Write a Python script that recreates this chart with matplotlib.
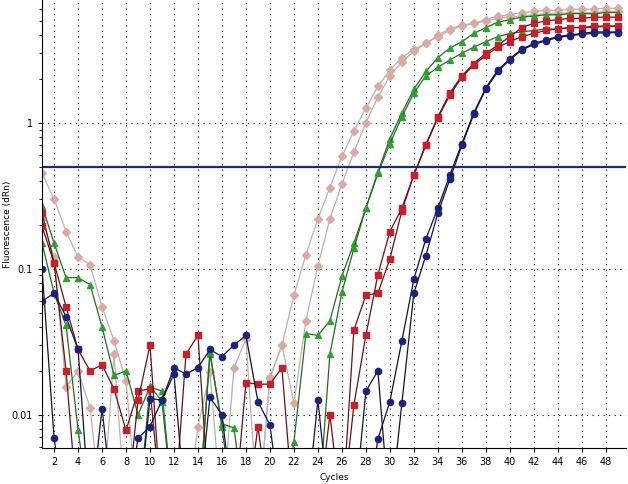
import numpy as np
import matplotlib
matplotlib.use("Agg")
import matplotlib.pyplot as plt

L = 0.002  # below the visible axis range
cycles = np.arange(1, 50)

blue_a = [0.1, 0.0069, L, L, L, 0.011, L, L, 0.0069, 0.0083, 0.0126, 0.021, 0.019, 0.021, 0.028, 0.025, 0.030, 0.035, 0.0123, 0.0085,
          L, L, L, 0.0126, L, L, L, L, 0.0068, 0.0123, 0.032, 0.085, 0.16, 0.26, 0.44, 0.72, 1.17, 1.74, 2.3, 2.75,
          3.2, 3.5, 3.7, 3.9, 4.0, 4.1, 4.2, 4.2, 4.2]
blue_b = [0.06, 0.068, 0.047, 0.028, L, L, L, L, L, 0.0129, 0.0126, 0.019, L, L, 0.0132, 0.010, L, L, L, L,
          L, L, L, L, L, L, L, 0.0145, 0.020, L, 0.012, 0.068, 0.123, 0.24, 0.41, 0.70, 1.15, 1.7, 2.25, 2.7,
          3.15, 3.45, 3.65, 3.85, 3.95, 4.05, 4.1, 4.15, 4.15]
red_a = [0.24, 0.11, 0.055, 0.028, 0.020, 0.022, 0.015, 0.0078, 0.0145, 0.0151, L, L, L, L, L, L, L, L, 0.0083, L,
         L, L, L, L, 0.010, L, 0.038, 0.066, 0.068, 0.117, 0.25, 0.44, 0.71, 1.1, 1.6, 2.1, 2.55, 3.0, 3.4, 3.9,
         4.5, 4.8, 5.0, 5.1, 5.2, 5.2, 5.3, 5.3, 5.3]
red_b = [0.195, 0.11, 0.020, L, L, L, L, L, 0.0126, 0.030, L, L, 0.026, 0.035, L, L, L, 0.0166, 0.0162, 0.0162,
         0.021, L, L, L, L, L, 0.0117, 0.035, 0.091, 0.18, 0.26, 0.44, 0.70, 1.08, 1.55, 2.05, 2.5, 2.9, 3.3, 3.6,
         3.9, 4.1, 4.3, 4.4, 4.5, 4.5, 4.6, 4.6, 4.6]
green_a = [0.27, 0.15, 0.087, 0.087, 0.078, 0.04, 0.0186, 0.020, 0.010, 0.0155, 0.0145, L, L, L, 0.026, 0.0087, 0.0081, L, L, L,
           L, 0.0065, 0.036, 0.035, 0.044, 0.089, 0.15, 0.26, 0.46, 0.78, 1.17, 1.7, 2.25, 2.8, 3.25, 3.6, 4.1, 4.5, 4.9, 5.1,
           5.3, 5.4, 5.5, 5.5, 5.6, 5.6, 5.6, 5.7, 5.7]
green_b = [0.15, 0.068, 0.041, 0.0079, L, L, L, L, L, 0.0158, 0.0123, L, L, L, 0.027, 0.0082, L, L, L, L,
           L, L, L, L, 0.026, 0.069, 0.138, 0.26, 0.45, 0.72, 1.1, 1.6, 2.1, 2.4, 2.7, 3.0, 3.3, 3.6, 3.9, 4.1,
           4.2, 4.3, 4.4, 4.4, 4.5, 4.5, 4.5, 4.6, 4.6]
pink_a = [0.45, 0.30, 0.18, 0.12, 0.107, 0.055, 0.032, 0.017, L, L, L, L, L, 0.0083, 0.0195, L, 0.021, 0.033, L, 0.018,
          0.030, 0.066, 0.125, 0.22, 0.36, 0.59, 0.88, 1.26, 1.78, 2.3, 2.8, 3.2, 3.5, 4.0, 4.4, 4.7, 4.8, 5.1, 5.4, 5.5,
          5.7, 5.8, 5.9, 5.9, 6.0, 6.0, 6.0, 6.1, 6.1]
pink_b = [0.22, 0.12, 0.0155, 0.020, 0.0112, L, 0.026, L, L, L, L, L, L, L, L, L, L, L, L, 0.0178,
          0.030, 0.012, 0.044, 0.105, 0.22, 0.38, 0.63, 1.0, 1.5, 2.1, 2.6, 3.1, 3.5, 3.9, 4.3, 4.6, 4.8, 5.0, 5.2, 5.3,
          5.4, 5.5, 5.6, 5.6, 5.7, 5.7, 5.7, 5.8, 5.8]
threshold = 0.5

# (data, line colour, marker colour, marker)
series = [
    (pink_a, "#bfb0ae", "#d9aba3", "D"),
    (pink_b, "#bfb0ae", "#d9aba3", "D"),
    (green_a, "#1f6e1f", "#2fa02f", "^"),
    (green_b, "#1f6e1f", "#2fa02f", "^"),
    (red_a, "#6a1010", "#c8202a", "s"),
    (red_b, "#6a1010", "#c8202a", "s"),
    (blue_a, "#101040", "#1a237e", "o"),
    (blue_b, "#101040", "#1a237e", "o"),
]

fig = plt.figure(figsize=(6.28, 4.84), dpi=100)
ax = fig.add_axes([0.067, 0.074, 0.93, 0.926])

for vals, lc, mc, mk in series:
    ax.plot(cycles, vals, color=lc, lw=0.9, marker=mk, markersize=4.5 if mk != "D" else 4,
            markerfacecolor=mc, markeredgecolor=mc)

ax.axhline(threshold, color="#1a2a7a", lw=1.6)

ax.set_yscale("log")
ax.set_xlim(1, 49.7)
ax.set_ylim(0.0059, 6.95)
ax.set_xticks(range(2, 50, 2))
ax.set_yticks([0.01, 0.1, 1])
ax.set_yticklabels(["0.01", "0.1", "1"])
ax.tick_params(labelsize=7, length=3)
ax.tick_params(which="minor", length=2)
ax.grid(True, which="major", color="black", linestyle=(0, (1, 4)), lw=0.8)
ax.set_xlabel("Cycles", fontsize=6.5, labelpad=4)
ax.set_ylabel("Fluorescence (dRn)", fontsize=6.5)
ax.yaxis.set_label_coords(-0.052, 0.5)
for s in ["top", "right"]:
    ax.spines[s].set_visible(False)

fig.savefig("out.png", dpi=100)
